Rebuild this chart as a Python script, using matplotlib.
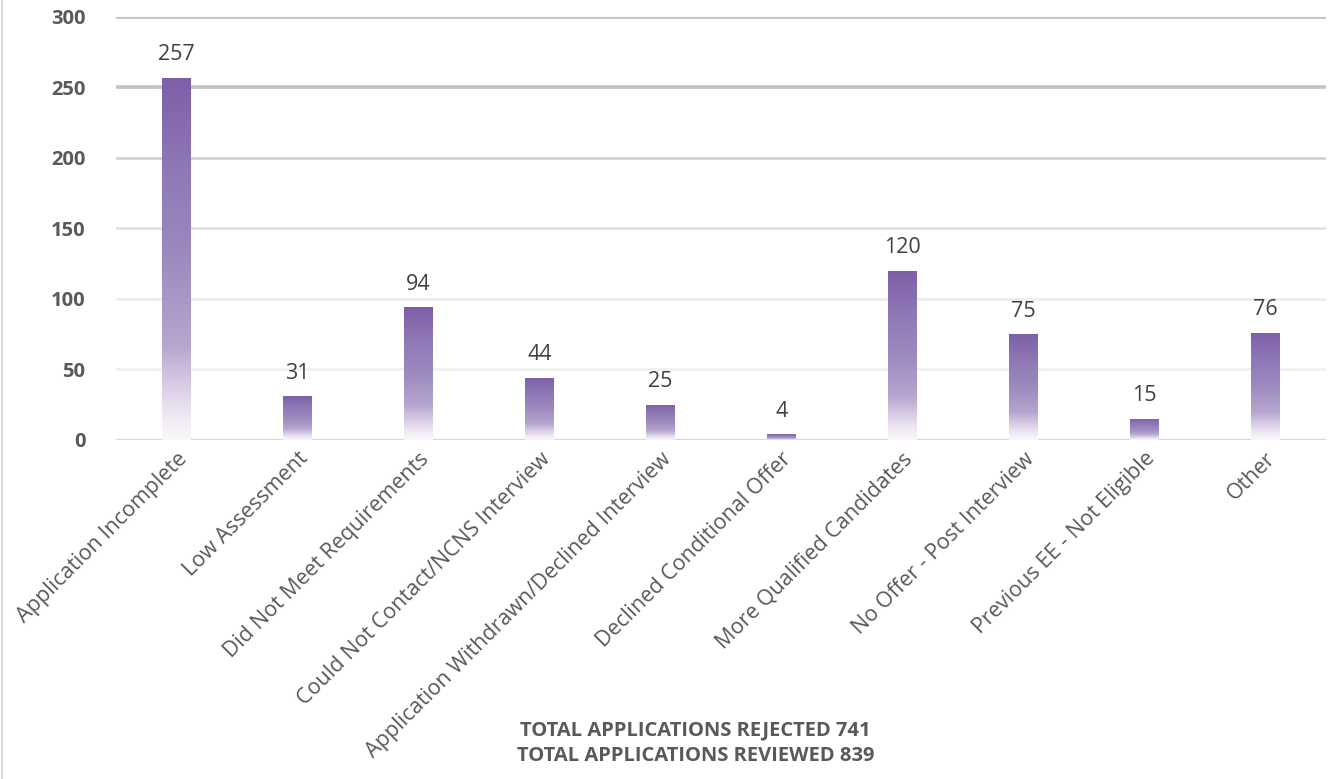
import numpy as np
import matplotlib.pyplot as plt
from matplotlib.colors import LinearSegmentedColormap
from matplotlib.lines import Line2D

# rejection reasons and counts
reasons = ["Application Incomplete", "Low Assessment", "Did Not Meet Requirements",
           "Could Not Contact/NCNS Interview", "Application Withdrawn/Declined Interview",
           "Declined Conditional Offer", "More Qualified Candidates",
           "No Offer - Post Interview", "Previous EE - Not Eligible", "Other"]
counts = [257, 31, 94, 44, 25, 4, 120, 75, 15, 76]
y_ticks = [0, 50, 100, 150, 200, 250, 300]
total_rejected = 741
total_reviewed = 839

plt.rcParams['font.family'] = ['Open Sans', 'DejaVu Sans']

fig = plt.figure(figsize=(13.39, 7.79), dpi=100)
ax = fig.add_axes([0.0866, 0.4352, 0.9034, 0.543])

# purple fading to white toward the base of each bar
bar_cmap = LinearSegmentedColormap.from_list(
    "fade", [(0.0, "#fcf7fc"), (0.06, "#f1eaf4"), (0.15, "#d8cce6"),
             (0.26, "#b6a6cf"), (0.5, "#9d8abf"), (0.75, "#8f78b6"), (1.0, "#7d5fa8")])
grad = np.linspace(0, 1, 256).reshape(-1, 1)

x = np.arange(len(reasons))
width = 0.235
bars = ax.bar(x, counts, width=width, color="none", edgecolor="none", zorder=3)
for rect in bars:
    x0, h = rect.get_x(), rect.get_height()
    im = ax.imshow(grad, cmap=bar_cmap, aspect="auto", origin="lower",
                   extent=[x0, x0 + width, 0, h], zorder=3, interpolation="bicubic")
    im.set_clip_path(rect)

# gridlines get lighter further down
grid_styles = {300: ("#bfbfbf", 2.6), 250: ("#c3c3c3", 2.6), 200: ("#d2d2d2", 2.0),
               150: ("#dedede", 1.8), 100: ("#ececec", 1.8), 50: ("#efefef", 1.8),
               0: ("#d9d9d9", 1.6)}
for yv in y_ticks:
    c, lw = grid_styles[yv]
    ax.axhline(yv, color=c, lw=lw, zorder=1)

for xi, v in zip(x, counts):
    ax.annotate(str(v), (xi, v), xytext=(0, 9), textcoords="offset points",
                ha="center", va="bottom", fontsize=15.5, color="#404040")

ax.set_xlim(-0.5, len(reasons) - 0.5)
ax.set_ylim(0, 300)
ax.set_yticks(y_ticks)
ax.set_yticklabels([str(t) for t in y_ticks], fontsize=14.5, fontweight="bold",
                   color="#595959")
ax.set_xticks(x)
ax.set_xticklabels(reasons, rotation=45, ha="right", va="top",
                   rotation_mode="anchor", fontsize=15.5, color="#595959")
ax.tick_params(axis="both", length=0)
ax.tick_params(axis="y", pad=22)
ax.tick_params(axis="x", pad=6)
for s in ax.spines.values():
    s.set_visible(False)

fig.text(0.5195, 0.046, "TOTAL APPLICATIONS REJECTED %d\nTOTAL APPLICATIONS REVIEWED %d"
         % (total_rejected, total_reviewed), ha="center", va="center",
         fontsize=14.5, fontweight="bold", color="#595959", linespacing=1.4)

# thin frame line on the left edge
fig.add_artist(Line2D([0.0015, 0.0015], [0, 1], transform=fig.transFigure,
                      color="#d9d9d9", lw=1.5))

fig.savefig("out.png", dpi=100)
